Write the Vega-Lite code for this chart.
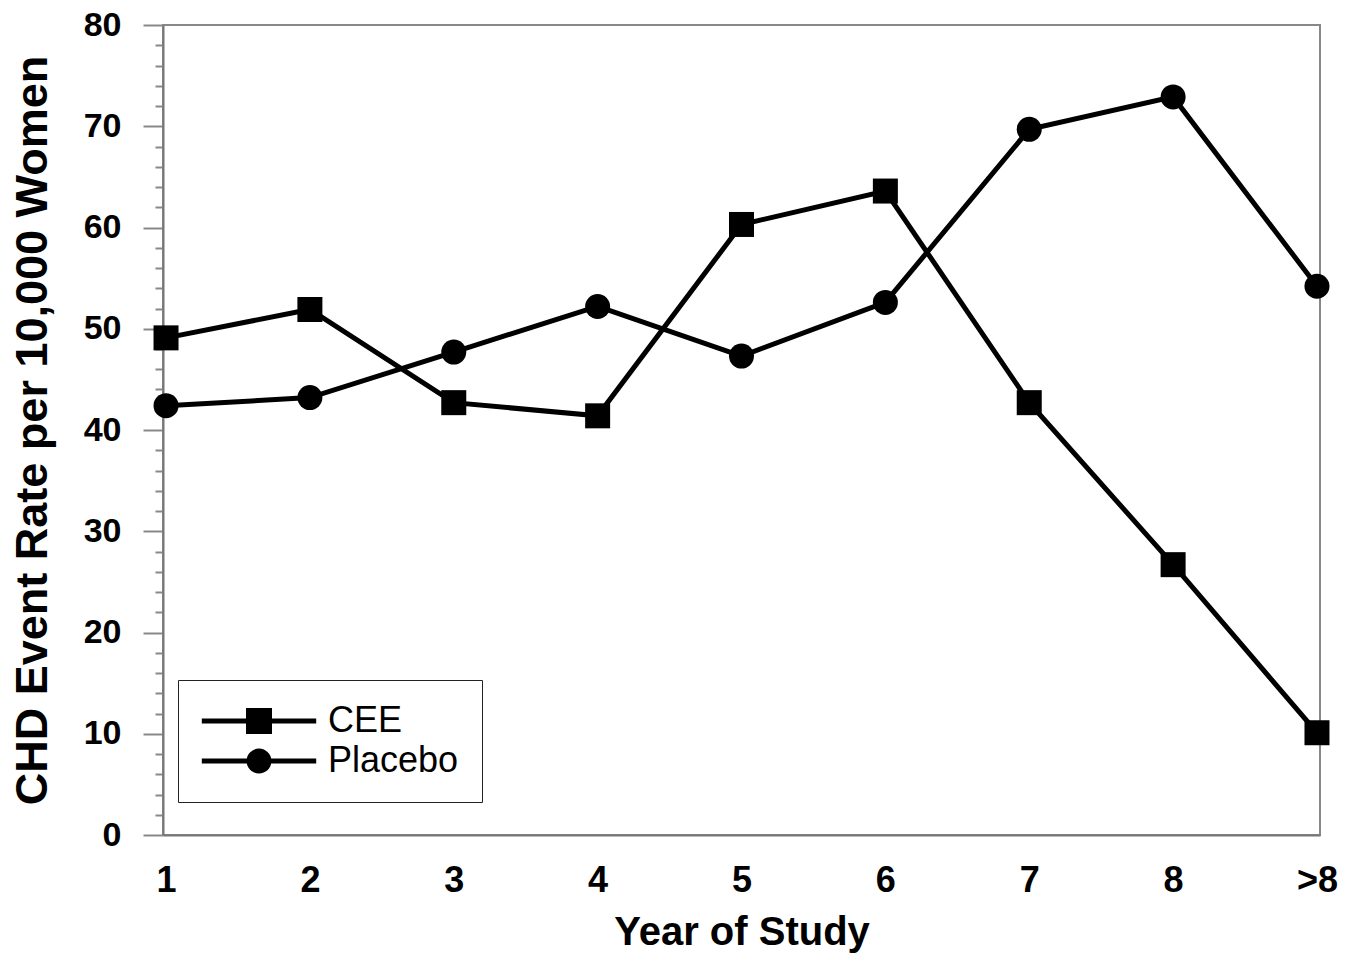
{
  "$schema": "https://vega.github.io/schema/vega-lite/v6.json",
  "width": 1157,
  "height": 810,
  "autosize": {"type": "none"},
  "padding": {"left": 163, "top": 25, "right": 35, "bottom": 125},
  "background": "white",
  "config": {
    "view": {"stroke": "#888", "strokeWidth": 2},
    "font": "Liberation Sans"
  },
  "data": {
    "values": [
      {"series": "CEE", "year": "1", "rate": 49.1},
      {"series": "CEE", "year": "2", "rate": 51.9},
      {"series": "CEE", "year": "3", "rate": 42.7},
      {"series": "CEE", "year": "4", "rate": 41.4},
      {"series": "CEE", "year": "5", "rate": 60.3},
      {"series": "CEE", "year": "6", "rate": 63.6},
      {"series": "CEE", "year": "7", "rate": 42.7},
      {"series": "CEE", "year": "8", "rate": 26.7},
      {"series": "CEE", "year": ">8", "rate": 10.1},
      {"series": "Placebo", "year": "1", "rate": 42.4},
      {"series": "Placebo", "year": "2", "rate": 43.2},
      {"series": "Placebo", "year": "3", "rate": 47.7},
      {"series": "Placebo", "year": "4", "rate": 52.2},
      {"series": "Placebo", "year": "5", "rate": 47.3},
      {"series": "Placebo", "year": "6", "rate": 52.6},
      {"series": "Placebo", "year": "7", "rate": 69.7},
      {"series": "Placebo", "year": "8", "rate": 72.9},
      {"series": "Placebo", "year": ">8", "rate": 54.2}
    ]
  },
  "encoding": {
    "x": {
      "field": "year",
      "type": "ordinal",
      "sort": ["1", "2", "3", "4", "5", "6", "7", "8", ">8"],
      "scale": {"type": "point", "padding": 0.021},
      "axis": {
        "title": "Year of Study",
        "labelAngle": 0,
        "ticks": false,
        "tickSize": 0,
        "grid": false,
        "domainColor": "#777",
        "domainWidth": 2,
        "labelFontSize": 36,
        "labelFontWeight": "bold",
        "labelColor": "black",
        "labelPadding": 28,
        "titleFontSize": 40,
        "titleFontWeight": "bold",
        "titleColor": "black",
        "titlePadding": 14
      }
    },
    "y": {
      "field": "rate",
      "type": "quantitative",
      "scale": {"domain": [0, 80], "nice": false},
      "axis": {
        "title": "CHD Event Rate per 10,000 Women",
        "values": [0,2,4,6,8,10,12,14,16,18,20,22,24,26,28,30,32,34,36,38,40,42,44,46,48,50,52,54,56,58,60,62,64,66,68,70,72,74,76,78,80],
        "labelExpr": "datum.value % 10 === 0 ? datum.label : ''",
        "labelOverlap": false,
        "labelBound": false,
        "labelFlush": false,
        "tickSize": {"condition": {"test": "datum.value % 10 === 0", "value": 20}, "value": 8},
        "tickColor": "#888",
        "tickWidth": 2,
        "grid": false,
        "domainColor": "#777",
        "domainWidth": 2,
        "labelFontSize": 34,
        "labelFontWeight": "bold",
        "labelColor": "black",
        "labelPadding": 22,
        "titleFontSize": 45,
        "titleFontWeight": "bold",
        "titleColor": "black",
        "titlePadding": 28
      }
    }
  },
  "layer": [
    {
      "mark": {"type": "line", "color": "black", "strokeWidth": 5},
      "encoding": {"detail": {"field": "series"}}
    },
    {
      "mark": {"type": "point", "filled": true, "color": "black", "size": 625, "opacity": 1},
      "encoding": {
        "shape": {
          "field": "series",
          "type": "nominal",
          "scale": {"domain": ["CEE", "Placebo"], "range": ["square", "circle"]},
          "legend": null
        }
      }
    },
    {
      "mark": {"type": "point", "filled": true, "color": "black", "size": 676, "opacity": 0},
      "encoding": {
        "shape": {
          "field": "series",
          "type": "nominal",
          "scale": {
            "domain": ["CEE", "Placebo"],
            "range": [
              "M-4.4,-0.19H4.4V0.19H-4.4ZM-1,-1H1V1H-1Z",
              "M-4.4,-0.19H4.4V0.19H-4.4ZM0.96,0A0.96,0.96,0,1,1,-0.96,0A0.96,0.96,0,1,1,0.96,0Z"
            ]
          },
          "legend": {
            "title": null,
            "orient": "none",
            "legendX": 15,
            "legendY": 655,
            "padding": 23,
            "labelFontSize": 36,
            "labelColor": "black",
            "labelFont": "Liberation Sans",
            "symbolSize": 676,
            "symbolOffset": 40,
            "labelOffset": 51,
            "rowPadding": 4,
            "symbolOpacity": 1,
            "symbolFillColor": "black",
            "symbolStrokeWidth": 0,
            "strokeColor": "#222",
            "encode": {
              "legend": {
                "update": {"strokeWidth": {"value": 3}}
              }
            }
          }
        }
      }
    }
  ],
  "resolve": {"scale": {"shape": "independent"}}
}
